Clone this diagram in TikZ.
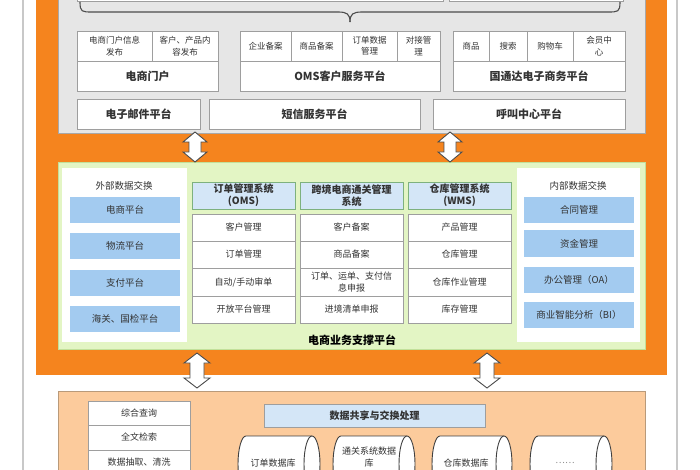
\documentclass[tikz,border=0pt]{standalone}
\usepackage{fontspec}
\setmainfont{Noto Sans CJK SC}
\usetikzlibrary{shapes.geometric}
\definecolor{orng}{HTML}{F5841E}
\definecolor{gpanel}{HTML}{E6E6E6}
\definecolor{gborder}{HTML}{A8A8A8}
\definecolor{cborder}{HTML}{9E9E9E}
\definecolor{grn}{HTML}{E3F5C4}
\definecolor{grnb}{HTML}{C2E09A}
\definecolor{blu}{HTML}{A3CBF0}
\definecolor{hblu}{HTML}{D4E6F7}
\definecolor{peach}{HTML}{FCCB9C}
\definecolor{peachb}{HTML}{B99A7A}
\definecolor{txt}{HTML}{333333}
\definecolor{vline}{HTML}{C8C8C8}
\newcommand\mybox[7]{\node[#6, minimum width={#4-#2}, minimum height={#5-#3}] (#1) at ({(#2+#4)/2},{(#3+#5)/2}) {#7};}
\newcommand\dblarr[6]{% name, cx, top, bottom, head half width, shaft half width
  \coordinate (#1) at (#2,{(#3+#4)/2});
  \draw[arrowblk] (#2,#3) -- ({#2+#5},{#3+10}) -- ({#2+#6},{#3+10}) -- ({#2+#6},{#4-10}) -- ({#2+#5},{#4-10}) -- (#2,#4)
   -- ({#2-#5},{#4-10}) -- ({#2-#6},{#4-10}) -- ({#2-#6},{#3+10}) -- ({#2-#5},{#3+10}) -- cycle;}
% cylinder lying on its side: name, x1, top, x2, bottom
\newcommand\dbcyl[5]{%
  \filldraw[dbline] ({#4-8},#3) -- ({#2+8},#3) arc[start angle=90, end angle=270, x radius=8pt, y radius={(#5-#3)/2*1pt}] -- ({#4-8},#5);
  \filldraw[dbline] ({#4-8},{(#3+#5)/2}) ellipse [x radius=8pt, y radius={(#5-#3)/2*1pt}];
  \coordinate (#1) at ({(#2+#4)/2-6},{(#3+#5)/2-1});}
\begin{document}
\begin{tikzpicture}[x=1pt,y=-1pt,
  every node/.style={inner sep=0pt, outer sep=0pt, text=txt},
  cell/.style={draw=cborder, fill=white, line width=0.8pt, align=center, font=\fontsize{8.5}{11.5}\selectfont},
  ttl/.style={cell, font=\fontsize{11}{13}\selectfont\bfseries},
  row/.style={cell, font=\fontsize{9}{12}\selectfont},
  hdr/.style={draw=cborder!80!green, fill=hblu, line width=0.8pt, align=center, font=\fontsize{10}{12}\selectfont\bfseries},
  bluebx/.style={fill=blu, draw=none, align=center, font=\fontsize{9.5}{11}\selectfont},
  panel/.style={draw=none, fill=white},
  lbl/.style={font=\fontsize{9.5}{11}\selectfont},
  arrowblk/.style={draw=black!70, fill=white, line width=0.9pt, line join=miter},
  dbline/.style={draw=black!75, fill=white, line width=0.9pt},
  dbtxt/.style={align=center, font=\fontsize{9}{12}\selectfont}
]
\useasboundingbox (0,0) rectangle (700,470);
\fill[white] (0,0) rectangle (700,470);
\draw[vline, line width=1.5pt] (23,0) -- (23,470);
\draw[vline, line width=1.5pt] (677,0) -- (677,470);

% orange frame and top panel
\mybox{frame}{36}{-10}{667}{375}{fill=orng, draw=none}{}
\mybox{toppanel}{58}{-10}{645}{133}{fill=gpanel, draw=gborder, line width=0.8pt}{}
\mybox{cutA}{77}{-12}{443}{1}{cell}{}
\mybox{cutB}{449}{-12}{623}{1}{cell}{}
\coordinate (brL) at (80,2);
\coordinate (brR) at (620,2);
\coordinate (brT) at (350,22);
\draw[black!70, line width=1.1pt] (brL) .. controls (80,12) and (82,12) .. (92,12) -- (338,12) .. controls (347,12) and (350,14) .. (brT);
\draw[black!70, line width=1.1pt] (brR) .. controls (620,12) and (618,12) .. (608,12) -- (362,12) .. controls (353,12) and (350,14) .. (brT);

% group 1
\mybox{g1a}{77}{31}{152}{61}{cell}{电商门户信息\\发布}
\mybox{g1b}{152}{31}{218}{61}{cell}{客户、产品内\\容发布}
\mybox{g1}{77}{61}{218}{91}{ttl}{电商门户}
% group 2
\mybox{g2a}{240}{31}{291}{61}{cell}{企业备案}
\mybox{g2b}{291}{31}{342}{61}{cell}{商品备案}
\mybox{g2c}{342}{31}{397}{61}{cell}{订单数据\\管理}
\mybox{g2d}{397}{31}{440}{61}{cell}{对接管\\理}
\mybox{g2}{240}{61}{440}{91}{ttl}{OMS客户服务平台}
% group 3
\mybox{g3a}{453}{31}{489}{61}{cell}{商品}
\mybox{g3b}{489}{31}{527}{61}{cell}{搜索}
\mybox{g3c}{527}{31}{573}{61}{cell}{购物车}
\mybox{g3d}{573}{31}{625}{61}{cell}{会员中\\心}
\mybox{g3}{453}{61}{625}{91}{ttl}{国通达电子商务平台}
% row 2
\mybox{mail}{77}{99}{200}{129}{ttl}{电子邮件平台}
\mybox{sms}{209}{99}{420}{129}{ttl}{短信服务平台}
\mybox{call}{433}{99}{625}{129}{ttl}{呼叫中心平台}

% middle green panel
\mybox{midpanel}{58}{163}{645}{349}{fill=grn, draw=grnb, line width=1pt}{}
\mybox{extp}{62}{168}{187}{342}{panel}{}
\node[lbl] (extt) at (124,186) {外部数据交换};
\mybox{e1}{70}{197}{180}{223}{bluebx}{电商平台}
\mybox{e2}{70}{233}{180}{259}{bluebx}{物流平台}
\mybox{e3}{70}{270}{180}{296}{bluebx}{支付平台}
\mybox{e4}{70}{306}{180}{332}{bluebx}{海关、国检平台}
\mybox{intp}{517}{168}{640}{342}{panel}{}
\node[lbl] (intt) at (578,186) {内部数据交换};
\mybox{i1}{524}{197}{634}{223}{bluebx}{合同管理}
\mybox{i2}{524}{230}{634}{257}{bluebx}{资金管理}
\mybox{i3}{524}{267}{634}{293}{bluebx}{办公管理（OA）}
\mybox{i4}{524}{302}{634}{328}{bluebx}{商业智能分析（BI）}

\mybox{h1}{192}{182}{295}{209}{hdr}{订单管理系统\\(OMS)}
\mybox{h2}{300}{182}{403}{209}{hdr}{跨境电商通关管理\\系统}
\mybox{h3}{408}{182}{511}{209}{hdr}{仓库管理系统\\(WMS)}

\mybox{a1}{192}{214}{295}{241}{row}{客户管理}
\mybox{a2}{192}{241}{295}{268}{row}{订单管理}
\mybox{a3}{192}{268}{295}{296}{row}{自动/手动审单}
\mybox{a4}{192}{296}{295}{323}{row}{开放平台管理}
\mybox{b1}{300}{214}{403}{241}{row}{客户备案}
\mybox{b2}{300}{241}{403}{268}{row}{商品备案}
\mybox{b3}{300}{268}{403}{296}{row}{订单、运单、支付信\\息申报}
\mybox{b4}{300}{296}{403}{323}{row}{进境清单申报}
\mybox{c1}{408}{214}{511}{241}{row}{产品管理}
\mybox{c2}{408}{241}{511}{268}{row}{仓库管理}
\mybox{c3}{408}{268}{511}{296}{row}{仓库作业管理}
\mybox{c4}{408}{296}{511}{323}{row}{库存管理}
\node[font=\fontsize{11}{13}\selectfont\bfseries, text=black] (midlbl) at (352,340) {电商业务支撑平台};

% arrows
\dblarr{ar1}{195}{132}{162}{12}{6}
\dblarr{ar2}{450}{132}{162}{12}{6}

% bottom panel
\mybox{botpanel}{58}{391}{645}{480}{fill=peach, draw=peachb, line width=0.9pt}{}
\dblarr{ar3}{197}{353}{388}{13}{7}
\dblarr{ar4}{487}{353}{388}{13}{7}
\mybox{q1}{88}{401}{190}{425}{row}{综合查询}
\mybox{q2}{88}{425}{190}{450}{row}{全文检索}
\mybox{q3}{88}{450}{190}{475}{row}{数据抽取、清洗}
\mybox{share}{264}{404}{485}{427}{hdr, draw=cborder}{数据共享与交换处理}
\dbcyl{db1}{238}{436}{320}{492}
\dbcyl{db2}{333}{436}{415}{492}
\dbcyl{db3}{432}{436}{512}{492}
\dbcyl{db4}{530}{436}{612}{492}
\node[dbtxt] (db1t) at (db1) {订单数据库};
\node[dbtxt] (db2t) at (369,457) {通关系统数据\\库};
\node[dbtxt] (db3t) at (db3) {仓库数据库};
\node[dbtxt, text=black!45] (db4t) at (db4) {……};
\end{tikzpicture}
\end{document}
